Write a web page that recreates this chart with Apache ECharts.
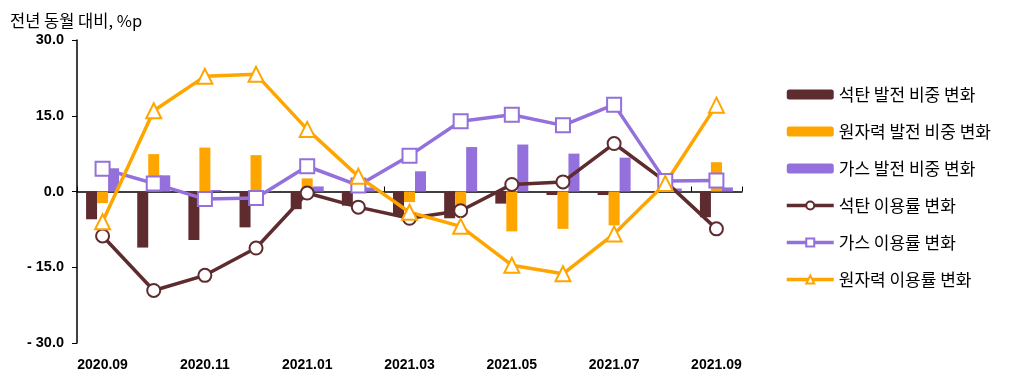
<!DOCTYPE html>
<html><head><meta charset="utf-8">
<script src="https://cdn.jsdelivr.net/npm/echarts@6/dist/echarts.min.js"></script>
<style>html,body{margin:0;padding:0;background:#fff}#c{width:1035px;height:380px}</style>
</head><body><div id="c"></div>
<script>
const categories = ['2020.09','2020.10','2020.11','2020.12','2021.01','2021.02','2021.03','2021.04','2021.05','2021.06','2021.07','2021.08','2021.09'];
const coalShare    = [-5.5,-11.1,-9.6,-7.1,-3.5,-2.8,-4.7,-5.3,-2.4,-0.7,-0.7,-0.2,-5.1];
const nuclearShare = [-2.3,7.4,8.7,7.2,2.6,0.5,-2.1,-3.2,-7.9,-7.4,-6.7,0.3,5.8];
const gasShare     = [4.6,3.2,0.3,0.1,1.0,0.8,4.0,8.8,9.3,7.5,6.7,0.6,0.8];
const coalUtil     = [-8.8,-19.6,-16.6,-11.2,-0.3,-3.1,-5.3,-3.8,1.4,1.9,9.5,2.0,-7.4];
const gasUtil      = [4.5,1.6,-1.5,-1.3,5.0,1.2,7.1,13.9,15.2,13.1,17.2,2.1,2.2];
const nuclearUtil  = [-6.0,16.0,22.8,23.2,12.3,3.0,-4.1,-6.9,-14.6,-16.3,-8.4,1.6,17.1];
const names = ['석탄 발전 비중 변화','원자력 발전 비중 변화','가스 발전 비중 변화','석탄 이용률 변화','가스 이용률 변화','원자력 이용률 변화'];
const yTitle = '전년 동월 대비, %p';

const C_COAL = '#5e2b2e', C_NUC = '#ffa500', C_GAS = '#9370db';
const font = '"Noto Sans CJK KR", "Noto Sans", sans-serif';

const chart = echarts.init(document.getElementById('c'), null, {renderer:'canvas'});
function bar(name, data, color){
  return {name, type:'bar', data, barWidth:11, barGap:'0%', itemStyle:{color}, z:2};
}
function line(name, data, color, symbol, size){
  return {name, type:'line', data, symbol, symbolSize:size, showAllSymbol:true,
    lineStyle:{color, width:3.5}, itemStyle:{color:'#fff', borderColor:color, borderWidth:2},
    z:5};
}
chart.setOption({
  animation:false,
  textStyle:{fontFamily:font},
  title:{text:yTitle, left:5, top:7, textStyle:{fontSize:16.5, fontWeight:'normal', color:'#000', fontFamily:font}},
  grid:{left:77, right:293, top:40, bottom:37},
  legend:{
    orient:'vertical', left:780, top:81, itemWidth:47, itemHeight:10, itemGap:20,
    lineStyle:{width:3.5},
    textStyle:{fontSize:17, lineHeight:17, color:'#000', fontFamily:font},
    data:names
  },
  xAxis:[
    {type:'category', data:categories, position:'bottom',
     axisLine:{show:false, onZero:false}, axisTick:{show:false},
     axisLabel:{interval:1, fontSize:14, fontWeight:'bold', color:'#000', margin:15, fontFamily:'"Liberation Sans", sans-serif'}},
    {type:'category', data:categories, position:'top',
     axisLine:{show:true, onZero:true, lineStyle:{color:'#000', width:1.5}},
     axisTick:{show:true, interval:5, length:5, lineStyle:{color:'#000'}},
     axisLabel:{show:false}}
  ],
  yAxis:{type:'value', min:-30, max:30, interval:15,
    axisLine:{show:true, lineStyle:{color:'#000', width:1.5}},
    axisTick:{show:true, length:5, lineStyle:{color:'#000'}},
    splitLine:{show:false},
    axisLabel:{fontSize:14.5, fontWeight:'bold', color:'#000', margin:13, fontFamily:'"Liberation Sans", sans-serif',
      formatter:v => v < 0 ? '- ' + Math.abs(v).toFixed(1) : v.toFixed(1)}},
  series:[
    bar(names[0], coalShare, C_COAL),
    bar(names[1], nuclearShare, C_NUC),
    bar(names[2], gasShare, C_GAS),
    line(names[3], coalUtil, C_COAL, 'circle', 13),
    line(names[4], gasUtil, C_GAS, 'rect', 14),
    line(names[5], nuclearUtil, C_NUC, 'triangle', 15)
  ]
});
</script></body></html>
